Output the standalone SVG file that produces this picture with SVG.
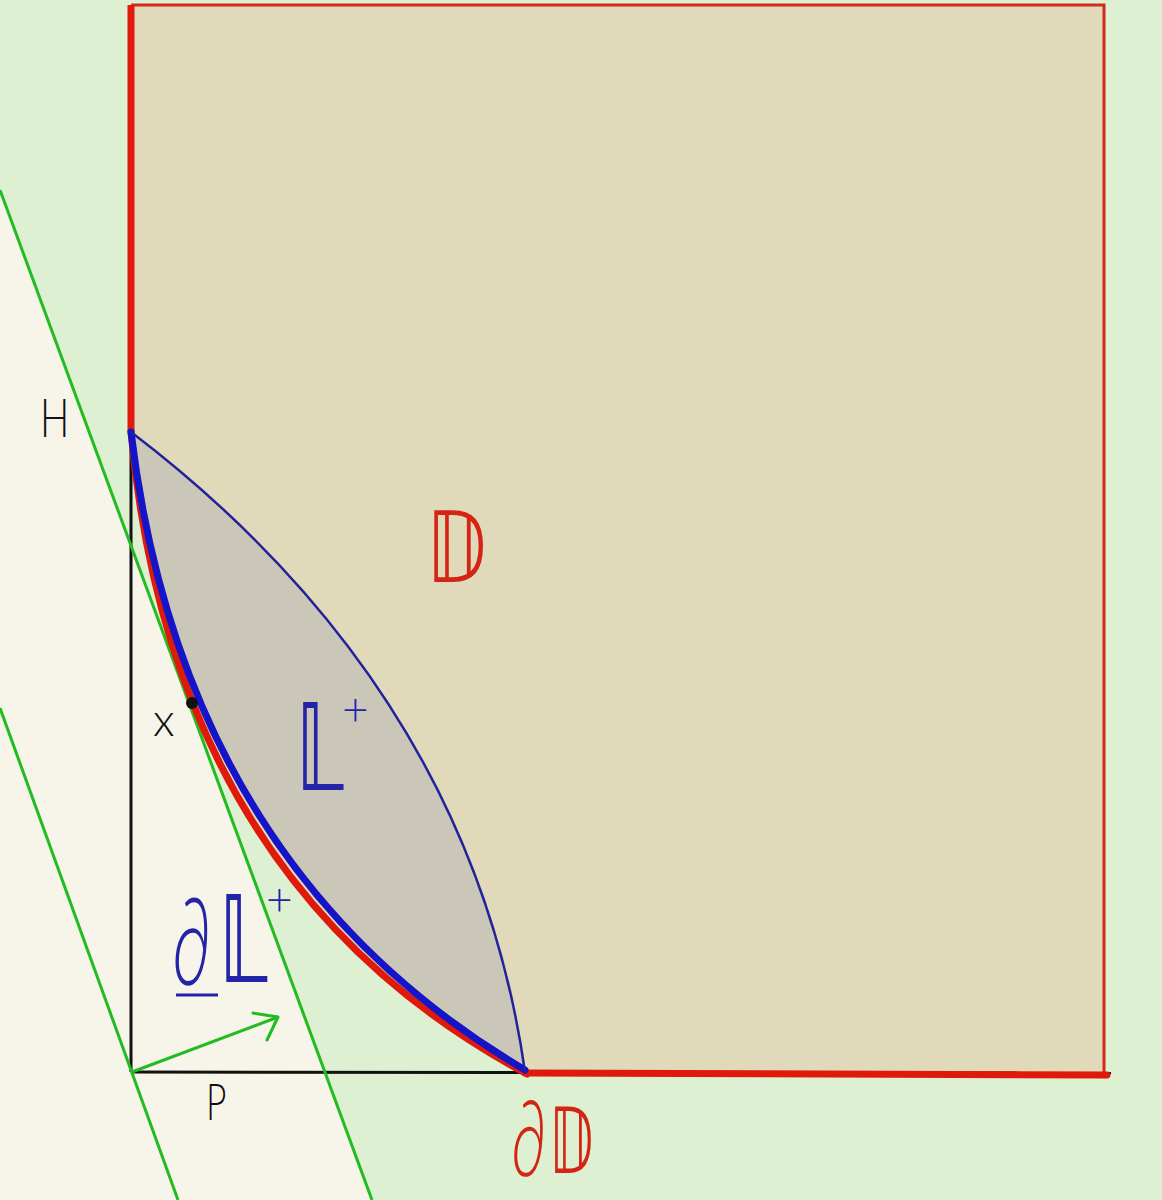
<svg xmlns="http://www.w3.org/2000/svg" width="1162" height="1200" viewBox="0 0 1162 1200">
<style>
.lbl{font-family:"DejaVu Sans","Noto Sans",sans-serif;}
.hand{font-family:"Lato","DejaVu Sans",sans-serif;font-weight:300;}
.red{fill:#D42414;}
.blue{fill:#2424A8;}
.blk{fill:#111;}
.green{stroke:#22BB22;stroke-width:3;fill:none;}
</style>
<rect x="0" y="0" width="1162" height="1200" fill="#DEF0D2"/>
<polygon points="0,190 372,1200 0,1200" fill="#F7F5E9"/>
<g id="regionD">
<path d="M131,5 L1104,5 L1104,1073 L525,1072 Q172,880 131,432 Z" fill="#E0DABB"/>
</g>
<g id="lens">
<path d="M131,432 Q471,691 525,1072 Q183,868 131,432 Z" fill="#CBC7B8"/>
</g>
<g id="connectors">
<line x1="131" y1="432" x2="131" y2="1072" stroke="#111" stroke-width="3"/>
<line x1="131" y1="1072" x2="1111" y2="1073" stroke="#111" stroke-width="3"/>
<line class="green" x1="0" y1="190" x2="372" y2="1200"/>
<line class="green" x1="0" y1="708" x2="178" y2="1200"/>
<line class="green" x1="132" y1="1072" x2="278" y2="1017" stroke-width="3.5"/>
<polyline class="green" points="253,1013 278,1017 267,1040" stroke-width="3.5" stroke-linecap="round" stroke-linejoin="round"/>
<path d="M131,5 L1104,5 L1104,1073" fill="none" stroke="#D42A1A" stroke-width="3"/>
<line x1="131" y1="5" x2="131" y2="432" stroke="#E01A0A" stroke-width="7"/>
<line x1="525" y1="1073" x2="1107" y2="1075" stroke="#E01A0A" stroke-width="7" stroke-linecap="round"/>
<path d="M131,432 Q172,884 527,1074" fill="none" stroke="#E01A0A" stroke-width="7" stroke-linecap="round"/>
<path d="M131,432 Q183,868 525,1070" fill="none" stroke="#1414C8" stroke-width="7" stroke-linecap="round"/>
<path d="M131,432 Q471,691 525,1072" fill="none" stroke="#22229A" stroke-width="2.5"/>
</g>
<g id="pointX">
<circle cx="192" cy="703" r="6" fill="#111"/>
<text class="hand blk" x="153" y="736" font-size="46">x</text>
</g>
<g id="labelH">
<text class="hand blk" transform="translate(40,437) scale(0.72,1)" font-size="54">H</text>
</g>
<g id="labelP">
<text class="hand blk" transform="translate(206,1120) scale(0.68,1)" font-size="52">P</text>
</g>
<g id="labelD">
<text class="lbl red" transform="translate(426,582) scale(0.75,1)" font-size="98">𝔻</text>
</g>
<g id="labelDD">
<text class="hand red" transform="translate(511,1176) scale(0.58,1)" font-size="106">∂</text>
<text class="lbl red" transform="translate(549,1173) scale(0.6,1)" font-size="90">𝔻</text>
</g>
<g id="labelL">
<text class="lbl blue" transform="translate(296,790) scale(0.6,1)" font-size="122">𝕃</text>
<text class="hand blue" x="342" y="725" font-size="46">+</text>
</g>
<g id="labelDL">
<text class="hand blue" transform="translate(172,985) scale(0.56,1)" font-size="122">∂</text>
<line x1="176" y1="995" x2="218" y2="995" stroke="#2424A8" stroke-width="3"/>
<text class="lbl blue" transform="translate(219,982) scale(0.61,1)" font-size="122">𝕃</text>
<text class="hand blue" x="266" y="915" font-size="46">+</text>
</g>
</svg>
